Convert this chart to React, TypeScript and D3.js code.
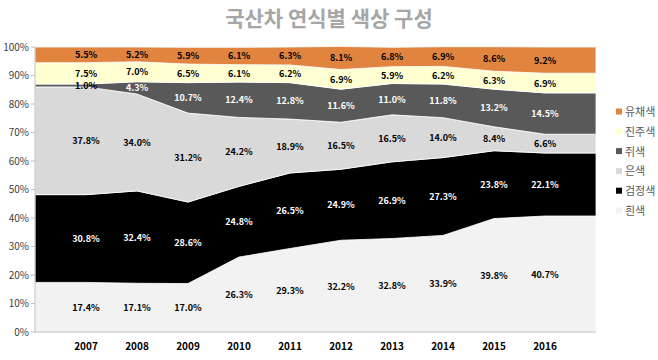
import React from "react";
import * as d3 from "d3";

const years = ["2007", "2008", "2009", "2010", "2011", "2012", "2013", "2014", "2015", "2016"];
const seriesNames = ["흰색", "검정색", "은색", "쥐색", "진주색", "유채색"];
const white = [17.4, 17.1, 17.0, 26.3, 29.3, 32.2, 32.8, 33.9, 39.8, 40.7];
const black = [30.8, 32.4, 28.6, 24.8, 26.5, 24.9, 26.9, 27.3, 23.8, 22.1];
const silver = [37.8, 34.0, 31.2, 24.2, 18.9, 16.5, 16.5, 14.0, 8.4, 6.6];
const gray = [1.0, 4.3, 10.7, 12.4, 12.8, 11.6, 11.0, 11.8, 13.2, 14.5];
const pearl = [7.5, 7.0, 6.5, 6.1, 6.2, 6.9, 5.9, 6.2, 6.3, 6.9];
const colored = [5.5, 5.2, 5.9, 6.1, 6.3, 8.1, 6.8, 6.9, 8.6, 9.2];
const yTicks = [0, 10, 20, 30, 40, 50, 60, 70, 80, 90, 100];

const seriesValues = [white, black, silver, gray, pearl, colored];
const fills = ["#F2F2F2", "#000000", "#D9D9D9", "#595959", "#FFFFD2", "#E0843F"];
const labelColors = ["#000", "#fff", "#000", "#fff", "#000", "#000"];

const W = 658, H = 360;
const L = 35, R = 596, T = 47, B = 332;
const font = "'Noto Sans CJK KR', 'Noto Sans', sans-serif";

export default function App() {
  const x = d3.scalePoint<string>().domain(years).range([L, R]).padding(1);
  const y = d3.scaleLinear().domain([0, 100]).range([B, T]);

  const table = years.map((yr, i) => {
    const row: any = { year: yr };
    seriesNames.forEach((s, k) => (row[s] = seriesValues[k][i]));
    return row;
  });
  const stacked = d3.stack<any>().keys(seriesNames)(table);

  const area = d3
    .area<{ x: number; y0: number; y1: number }>()
    .x((d) => d.x)
    .y0((d) => y(d.y0))
    .y1((d) => y(d.y1));

  const layers = stacked.map((layer) => {
    const pts = layer.map((d, i) => ({ x: x(years[i]) as number, y0: d[0], y1: d[1] }));
    const first = pts[0], last = pts[pts.length - 1];
    return [{ ...first, x: L }, ...pts, { ...last, x: R }];
  });

  return (
    <svg width={W} height={H} style={{ position: "absolute", left: 0, top: 0, background: "#fff" }} fontFamily={font}>
      <text x={329} y={26} textAnchor="middle" fontSize={21} fontWeight={700} fill="#A6A6A6">
        국산차 연식별 색상 구성
      </text>
      {layers.map((pts, k) => (
        <path key={k} d={area(pts) || ""} fill={fills[k]} stroke="#fff" strokeWidth={0.8} />
      ))}
      <line x1={L} x2={R} y1={B} y2={B} stroke="#BFBFBF" />
      <line x1={L} x2={L} y1={T} y2={B} stroke="#BFBFBF" />
      {yTicks.map((t) => (
        <g key={t}>
          <line x1={L - 4} x2={L} y1={y(t)} y2={y(t)} stroke="#BFBFBF" />
          <text x={29} y={y(t) + 3.5} textAnchor="end" fontSize={10} fill="#404040">
            {t}%
          </text>
        </g>
      ))}
      {years.map((yr) => (
        <text key={yr} x={x(yr)} y={350} textAnchor="middle" fontSize={10} fontWeight={700} fill="#000">
          {yr}
        </text>
      ))}
      {stacked.map((layer, k) =>
        layer.map((d, i) => {
          const v = seriesValues[k][i];
          const fill = v < 2 ? "#000" : labelColors[k];
          return (
            <text
              key={k + "-" + i}
              x={x(years[i])}
              y={y((d[0] + d[1]) / 2) + 3.5}
              textAnchor="middle"
              fontSize={9}
              fontWeight={700}
              fill={fill}
            >
              {v.toFixed(1)}%
            </text>
          );
        })
      )}
      {seriesNames
        .slice()
        .reverse()
        .map((s, j) => {
          const k = seriesNames.length - 1 - j;
          const ly = 112 + j * 19.8;
          return (
            <g key={s}>
              <rect x={616} y={ly - 3.5} width={6} height={6} fill={fills[k]} />
              <text x={625} y={ly + 4} fontSize={11} fill="#595959">
                {s}
              </text>
            </g>
          );
        })}
    </svg>
  );
}
